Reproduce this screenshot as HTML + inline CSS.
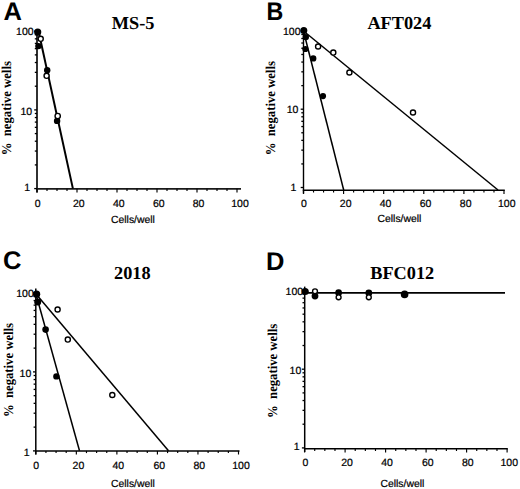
<!DOCTYPE html><html><head><meta charset="utf-8"><style>html,body{margin:0;padding:0;background:#fff;}svg{display:block;}text{text-rendering:geometricPrecision;}</style></head><body>
<svg width="520" height="489" viewBox="0 0 520 489">
<rect width="520" height="489" fill="#fff"/>
<g><text transform="translate(3.4,19.6) scale(1.0,1)" font-family='"Liberation Sans", sans-serif' font-weight="bold" font-size="25.5">A</text><text x="133.1" y="29.2" text-anchor="middle" font-family='"Liberation Serif", serif' font-weight="bold" font-size="18.3">MS-5</text><line x1="37.0" y1="29.5" x2="37.0" y2="192.5" stroke="#1a1a1a" stroke-width="1.8"/><line x1="36.1" y1="188.8" x2="241.0" y2="188.8" stroke="#1a1a1a" stroke-width="1.8"/><line x1="34.20" y1="188.60" x2="37.0" y2="188.60" stroke="#000" stroke-width="1.3"/><line x1="34.80" y1="164.91" x2="37.0" y2="164.91" stroke="#000" stroke-width="1.3"/><line x1="34.80" y1="151.05" x2="37.0" y2="151.05" stroke="#000" stroke-width="1.3"/><line x1="34.80" y1="141.22" x2="37.0" y2="141.22" stroke="#000" stroke-width="1.3"/><line x1="34.80" y1="133.59" x2="37.0" y2="133.59" stroke="#000" stroke-width="1.3"/><line x1="34.80" y1="127.36" x2="37.0" y2="127.36" stroke="#000" stroke-width="1.3"/><line x1="34.80" y1="122.09" x2="37.0" y2="122.09" stroke="#000" stroke-width="1.3"/><line x1="34.80" y1="117.53" x2="37.0" y2="117.53" stroke="#000" stroke-width="1.3"/><line x1="34.80" y1="113.50" x2="37.0" y2="113.50" stroke="#000" stroke-width="1.3"/><line x1="34.20" y1="109.90" x2="37.0" y2="109.90" stroke="#000" stroke-width="1.3"/><line x1="34.80" y1="86.21" x2="37.0" y2="86.21" stroke="#000" stroke-width="1.3"/><line x1="34.80" y1="72.35" x2="37.0" y2="72.35" stroke="#000" stroke-width="1.3"/><line x1="34.80" y1="62.52" x2="37.0" y2="62.52" stroke="#000" stroke-width="1.3"/><line x1="34.80" y1="54.89" x2="37.0" y2="54.89" stroke="#000" stroke-width="1.3"/><line x1="34.80" y1="48.66" x2="37.0" y2="48.66" stroke="#000" stroke-width="1.3"/><line x1="34.80" y1="43.39" x2="37.0" y2="43.39" stroke="#000" stroke-width="1.3"/><line x1="34.80" y1="38.83" x2="37.0" y2="38.83" stroke="#000" stroke-width="1.3"/><line x1="34.80" y1="34.80" x2="37.0" y2="34.80" stroke="#000" stroke-width="1.3"/><line x1="34.20" y1="31.20" x2="37.0" y2="31.20" stroke="#000" stroke-width="1.3"/><line x1="37.00" y1="188.8" x2="37.00" y2="192.4" stroke="#000" stroke-width="1.15"/><line x1="47.00" y1="188.8" x2="47.00" y2="191.0" stroke="#000" stroke-width="1.15"/><line x1="57.00" y1="188.8" x2="57.00" y2="191.0" stroke="#000" stroke-width="1.15"/><line x1="67.00" y1="188.8" x2="67.00" y2="191.0" stroke="#000" stroke-width="1.15"/><line x1="77.00" y1="188.8" x2="77.00" y2="192.4" stroke="#000" stroke-width="1.15"/><line x1="87.00" y1="188.8" x2="87.00" y2="191.0" stroke="#000" stroke-width="1.15"/><line x1="97.00" y1="188.8" x2="97.00" y2="191.0" stroke="#000" stroke-width="1.15"/><line x1="107.00" y1="188.8" x2="107.00" y2="191.0" stroke="#000" stroke-width="1.15"/><line x1="117.00" y1="188.8" x2="117.00" y2="192.4" stroke="#000" stroke-width="1.15"/><line x1="127.00" y1="188.8" x2="127.00" y2="191.0" stroke="#000" stroke-width="1.15"/><line x1="137.00" y1="188.8" x2="137.00" y2="191.0" stroke="#000" stroke-width="1.15"/><line x1="147.00" y1="188.8" x2="147.00" y2="191.0" stroke="#000" stroke-width="1.15"/><line x1="157.00" y1="188.8" x2="157.00" y2="192.4" stroke="#000" stroke-width="1.15"/><line x1="167.00" y1="188.8" x2="167.00" y2="191.0" stroke="#000" stroke-width="1.15"/><line x1="177.00" y1="188.8" x2="177.00" y2="191.0" stroke="#000" stroke-width="1.15"/><line x1="187.00" y1="188.8" x2="187.00" y2="191.0" stroke="#000" stroke-width="1.15"/><line x1="197.00" y1="188.8" x2="197.00" y2="192.4" stroke="#000" stroke-width="1.15"/><line x1="207.00" y1="188.8" x2="207.00" y2="191.0" stroke="#000" stroke-width="1.15"/><line x1="217.00" y1="188.8" x2="217.00" y2="191.0" stroke="#000" stroke-width="1.15"/><line x1="227.00" y1="188.8" x2="227.00" y2="191.0" stroke="#000" stroke-width="1.15"/><line x1="237.00" y1="188.8" x2="237.00" y2="192.4" stroke="#000" stroke-width="1.15"/><text x="16.08" y="35.08" font-family='"Liberation Sans", sans-serif' font-size="10.5" stroke="#000" stroke-width="0.22">100</text><text x="20.49" y="114.68" font-family='"Liberation Sans", sans-serif' font-size="10.5" stroke="#000" stroke-width="0.22">10</text><text x="24.26" y="190.73" font-family='"Liberation Sans", sans-serif' font-size="10.5" stroke="#000" stroke-width="0.22">1</text><text x="34.79" y="207.03" font-family='"Liberation Sans", sans-serif' font-size="10.5" stroke="#000" stroke-width="0.22">0</text><text x="72.97" y="207.03" font-family='"Liberation Sans", sans-serif' font-size="10.5" stroke="#000" stroke-width="0.22">20</text><text x="112.95" y="207.03" font-family='"Liberation Sans", sans-serif' font-size="10.5" stroke="#000" stroke-width="0.22">40</text><text x="152.92" y="207.03" font-family='"Liberation Sans", sans-serif' font-size="10.5" stroke="#000" stroke-width="0.22">60</text><text x="192.65" y="207.03" font-family='"Liberation Sans", sans-serif' font-size="10.5" stroke="#000" stroke-width="0.22">80</text><text x="231.27" y="207.03" font-family='"Liberation Sans", sans-serif' font-size="10.5" stroke="#000" stroke-width="0.22">100</text><text x="111.03" y="222.52" font-family='"Liberation Sans", sans-serif' font-size="10.4" stroke="#000" stroke-width="0.22">Cells/well</text><text transform="translate(11.3,108.2) rotate(-90) scale(0.94,1)" text-anchor="middle" font-family='"Liberation Serif", serif' font-weight="bold" font-size="13.5" xml:space="preserve">%  negative wells</text><line x1="38.6" y1="31.5" x2="72.9" y2="188.6" stroke="#000" stroke-width="2.0"/><circle cx="37.7" cy="32.1" r="3.6" fill="#000"/><circle cx="38.4" cy="46.1" r="3.2" fill="#000"/><circle cx="47.2" cy="70.2" r="3.2" fill="#000"/><circle cx="57.1" cy="120.9" r="3.2" fill="#000"/><circle cx="40.7" cy="38.8" r="2.55" fill="#fff" stroke="#000" stroke-width="1.4"/><circle cx="46.6" cy="75.8" r="2.55" fill="#fff" stroke="#000" stroke-width="1.4"/><circle cx="57.7" cy="116.0" r="2.6500000000000004" fill="#fff" stroke="#000" stroke-width="1.4"/></g>
<g><text transform="translate(266.6,19.6) scale(0.91,1)" font-family='"Liberation Sans", sans-serif' font-weight="bold" font-size="25.5">B</text><text x="399.4" y="29.2" text-anchor="middle" font-family='"Liberation Serif", serif' font-weight="bold" font-size="18.3">AFT024</text><line x1="303.5" y1="28.0" x2="303.5" y2="193.6" stroke="#000" stroke-width="1.4"/><line x1="302.8" y1="190.3" x2="504.8" y2="190.3" stroke="#000" stroke-width="1.4"/><line x1="300.70" y1="187.50" x2="303.5" y2="187.50" stroke="#000" stroke-width="1.3"/><line x1="301.30" y1="163.93" x2="303.5" y2="163.93" stroke="#000" stroke-width="1.3"/><line x1="301.30" y1="150.14" x2="303.5" y2="150.14" stroke="#000" stroke-width="1.3"/><line x1="301.30" y1="140.36" x2="303.5" y2="140.36" stroke="#000" stroke-width="1.3"/><line x1="301.30" y1="132.77" x2="303.5" y2="132.77" stroke="#000" stroke-width="1.3"/><line x1="301.30" y1="126.57" x2="303.5" y2="126.57" stroke="#000" stroke-width="1.3"/><line x1="301.30" y1="121.33" x2="303.5" y2="121.33" stroke="#000" stroke-width="1.3"/><line x1="301.30" y1="116.79" x2="303.5" y2="116.79" stroke="#000" stroke-width="1.3"/><line x1="301.30" y1="112.78" x2="303.5" y2="112.78" stroke="#000" stroke-width="1.3"/><line x1="300.70" y1="109.20" x2="303.5" y2="109.20" stroke="#000" stroke-width="1.3"/><line x1="301.30" y1="85.63" x2="303.5" y2="85.63" stroke="#000" stroke-width="1.3"/><line x1="301.30" y1="71.84" x2="303.5" y2="71.84" stroke="#000" stroke-width="1.3"/><line x1="301.30" y1="62.06" x2="303.5" y2="62.06" stroke="#000" stroke-width="1.3"/><line x1="301.30" y1="54.47" x2="303.5" y2="54.47" stroke="#000" stroke-width="1.3"/><line x1="301.30" y1="48.27" x2="303.5" y2="48.27" stroke="#000" stroke-width="1.3"/><line x1="301.30" y1="43.03" x2="303.5" y2="43.03" stroke="#000" stroke-width="1.3"/><line x1="301.30" y1="38.49" x2="303.5" y2="38.49" stroke="#000" stroke-width="1.3"/><line x1="301.30" y1="34.48" x2="303.5" y2="34.48" stroke="#000" stroke-width="1.3"/><line x1="300.70" y1="30.90" x2="303.5" y2="30.90" stroke="#000" stroke-width="1.3"/><line x1="303.50" y1="190.3" x2="303.50" y2="193.9" stroke="#000" stroke-width="1.15"/><line x1="313.52" y1="190.3" x2="313.52" y2="192.5" stroke="#000" stroke-width="1.15"/><line x1="323.55" y1="190.3" x2="323.55" y2="192.5" stroke="#000" stroke-width="1.15"/><line x1="333.57" y1="190.3" x2="333.57" y2="192.5" stroke="#000" stroke-width="1.15"/><line x1="343.60" y1="190.3" x2="343.60" y2="193.9" stroke="#000" stroke-width="1.15"/><line x1="353.62" y1="190.3" x2="353.62" y2="192.5" stroke="#000" stroke-width="1.15"/><line x1="363.65" y1="190.3" x2="363.65" y2="192.5" stroke="#000" stroke-width="1.15"/><line x1="373.68" y1="190.3" x2="373.68" y2="192.5" stroke="#000" stroke-width="1.15"/><line x1="383.70" y1="190.3" x2="383.70" y2="193.9" stroke="#000" stroke-width="1.15"/><line x1="393.73" y1="190.3" x2="393.73" y2="192.5" stroke="#000" stroke-width="1.15"/><line x1="403.75" y1="190.3" x2="403.75" y2="192.5" stroke="#000" stroke-width="1.15"/><line x1="413.77" y1="190.3" x2="413.77" y2="192.5" stroke="#000" stroke-width="1.15"/><line x1="423.80" y1="190.3" x2="423.80" y2="193.9" stroke="#000" stroke-width="1.15"/><line x1="433.82" y1="190.3" x2="433.82" y2="192.5" stroke="#000" stroke-width="1.15"/><line x1="443.85" y1="190.3" x2="443.85" y2="192.5" stroke="#000" stroke-width="1.15"/><line x1="453.88" y1="190.3" x2="453.88" y2="192.5" stroke="#000" stroke-width="1.15"/><line x1="463.90" y1="190.3" x2="463.90" y2="193.9" stroke="#000" stroke-width="1.15"/><line x1="473.92" y1="190.3" x2="473.92" y2="192.5" stroke="#000" stroke-width="1.15"/><line x1="483.95" y1="190.3" x2="483.95" y2="192.5" stroke="#000" stroke-width="1.15"/><line x1="493.98" y1="190.3" x2="493.98" y2="192.5" stroke="#000" stroke-width="1.15"/><line x1="504.00" y1="190.3" x2="504.00" y2="193.9" stroke="#000" stroke-width="1.15"/><text x="282.97" y="35.03" font-family='"Liberation Sans", sans-serif' font-size="10.5" stroke="#000" stroke-width="0.22">100</text><text x="286.69" y="113.03" font-family='"Liberation Sans", sans-serif' font-size="10.5" stroke="#000" stroke-width="0.22">10</text><text x="290.56" y="191.23" font-family='"Liberation Sans", sans-serif' font-size="10.5" stroke="#000" stroke-width="0.22">1</text><text x="300.99" y="206.83" font-family='"Liberation Sans", sans-serif' font-size="10.5" stroke="#000" stroke-width="0.22">0</text><text x="339.82" y="206.83" font-family='"Liberation Sans", sans-serif' font-size="10.5" stroke="#000" stroke-width="0.22">20</text><text x="379.75" y="206.83" font-family='"Liberation Sans", sans-serif' font-size="10.5" stroke="#000" stroke-width="0.22">40</text><text x="419.72" y="206.83" font-family='"Liberation Sans", sans-serif' font-size="10.5" stroke="#000" stroke-width="0.22">60</text><text x="459.85" y="206.83" font-family='"Liberation Sans", sans-serif' font-size="10.5" stroke="#000" stroke-width="0.22">80</text><text x="497.97" y="206.83" font-family='"Liberation Sans", sans-serif' font-size="10.5" stroke="#000" stroke-width="0.22">100</text><text x="377.53" y="221.72" font-family='"Liberation Sans", sans-serif' font-size="10.4" stroke="#000" stroke-width="0.22">Cells/well</text><text transform="translate(275.0,108.2) rotate(-90) scale(0.94,1)" text-anchor="middle" font-family='"Liberation Serif", serif' font-weight="bold" font-size="13.5" xml:space="preserve">%  negative wells</text><line x1="303.5" y1="31.0" x2="343.7" y2="190.0" stroke="#000" stroke-width="1.5"/><line x1="303.5" y1="31.0" x2="498.0" y2="190.0" stroke="#000" stroke-width="1.5"/><circle cx="303.8" cy="30.6" r="3.5" fill="#000"/><circle cx="305.8" cy="37.1" r="3.2" fill="#000"/><circle cx="305.4" cy="49.0" r="3.1" fill="#000"/><circle cx="313.2" cy="58.4" r="3.2" fill="#000"/><circle cx="323.0" cy="96.1" r="3.1" fill="#000"/><circle cx="318.1" cy="46.5" r="2.55" fill="#fff" stroke="#000" stroke-width="1.4"/><circle cx="333.3" cy="52.6" r="2.55" fill="#fff" stroke="#000" stroke-width="1.4"/><circle cx="349.4" cy="72.5" r="2.55" fill="#fff" stroke="#000" stroke-width="1.4"/><circle cx="413.0" cy="112.5" r="2.55" fill="#fff" stroke="#000" stroke-width="1.4"/></g>
<g><text transform="translate(2.9,269.0) scale(1.0,1)" font-family='"Liberation Sans", sans-serif' font-weight="bold" font-size="25.5">C</text><text x="132.3" y="278.8" text-anchor="middle" font-family='"Liberation Serif", serif' font-weight="bold" font-size="18.3">2018</text><line x1="35.8" y1="288.6" x2="35.8" y2="454.5" stroke="#000" stroke-width="1.5"/><line x1="35.05" y1="450.9" x2="239.5" y2="450.9" stroke="#000" stroke-width="1.5"/><line x1="33.00" y1="450.90" x2="35.8" y2="450.90" stroke="#000" stroke-width="1.3"/><line x1="33.60" y1="427.12" x2="35.8" y2="427.12" stroke="#000" stroke-width="1.3"/><line x1="33.60" y1="413.21" x2="35.8" y2="413.21" stroke="#000" stroke-width="1.3"/><line x1="33.60" y1="403.34" x2="35.8" y2="403.34" stroke="#000" stroke-width="1.3"/><line x1="33.60" y1="395.68" x2="35.8" y2="395.68" stroke="#000" stroke-width="1.3"/><line x1="33.60" y1="389.43" x2="35.8" y2="389.43" stroke="#000" stroke-width="1.3"/><line x1="33.60" y1="384.14" x2="35.8" y2="384.14" stroke="#000" stroke-width="1.3"/><line x1="33.60" y1="379.56" x2="35.8" y2="379.56" stroke="#000" stroke-width="1.3"/><line x1="33.60" y1="375.51" x2="35.8" y2="375.51" stroke="#000" stroke-width="1.3"/><line x1="33.00" y1="371.90" x2="35.8" y2="371.90" stroke="#000" stroke-width="1.3"/><line x1="33.60" y1="348.12" x2="35.8" y2="348.12" stroke="#000" stroke-width="1.3"/><line x1="33.60" y1="334.21" x2="35.8" y2="334.21" stroke="#000" stroke-width="1.3"/><line x1="33.60" y1="324.34" x2="35.8" y2="324.34" stroke="#000" stroke-width="1.3"/><line x1="33.60" y1="316.68" x2="35.8" y2="316.68" stroke="#000" stroke-width="1.3"/><line x1="33.60" y1="310.43" x2="35.8" y2="310.43" stroke="#000" stroke-width="1.3"/><line x1="33.60" y1="305.14" x2="35.8" y2="305.14" stroke="#000" stroke-width="1.3"/><line x1="33.60" y1="300.56" x2="35.8" y2="300.56" stroke="#000" stroke-width="1.3"/><line x1="33.60" y1="296.51" x2="35.8" y2="296.51" stroke="#000" stroke-width="1.3"/><line x1="33.00" y1="292.90" x2="35.8" y2="292.90" stroke="#000" stroke-width="1.3"/><line x1="35.80" y1="450.9" x2="35.80" y2="454.5" stroke="#000" stroke-width="1.15"/><line x1="45.94" y1="450.9" x2="45.94" y2="453.09999999999997" stroke="#000" stroke-width="1.15"/><line x1="56.07" y1="450.9" x2="56.07" y2="453.09999999999997" stroke="#000" stroke-width="1.15"/><line x1="66.20" y1="450.9" x2="66.20" y2="453.09999999999997" stroke="#000" stroke-width="1.15"/><line x1="76.34" y1="450.9" x2="76.34" y2="454.5" stroke="#000" stroke-width="1.15"/><line x1="86.47" y1="450.9" x2="86.47" y2="453.09999999999997" stroke="#000" stroke-width="1.15"/><line x1="96.61" y1="450.9" x2="96.61" y2="453.09999999999997" stroke="#000" stroke-width="1.15"/><line x1="106.75" y1="450.9" x2="106.75" y2="453.09999999999997" stroke="#000" stroke-width="1.15"/><line x1="116.88" y1="450.9" x2="116.88" y2="454.5" stroke="#000" stroke-width="1.15"/><line x1="127.02" y1="450.9" x2="127.02" y2="453.09999999999997" stroke="#000" stroke-width="1.15"/><line x1="137.15" y1="450.9" x2="137.15" y2="453.09999999999997" stroke="#000" stroke-width="1.15"/><line x1="147.29" y1="450.9" x2="147.29" y2="453.09999999999997" stroke="#000" stroke-width="1.15"/><line x1="157.42" y1="450.9" x2="157.42" y2="454.5" stroke="#000" stroke-width="1.15"/><line x1="167.56" y1="450.9" x2="167.56" y2="453.09999999999997" stroke="#000" stroke-width="1.15"/><line x1="177.69" y1="450.9" x2="177.69" y2="453.09999999999997" stroke="#000" stroke-width="1.15"/><line x1="187.82" y1="450.9" x2="187.82" y2="453.09999999999997" stroke="#000" stroke-width="1.15"/><line x1="197.96" y1="450.9" x2="197.96" y2="454.5" stroke="#000" stroke-width="1.15"/><line x1="208.10" y1="450.9" x2="208.10" y2="453.09999999999997" stroke="#000" stroke-width="1.15"/><line x1="218.23" y1="450.9" x2="218.23" y2="453.09999999999997" stroke="#000" stroke-width="1.15"/><line x1="228.37" y1="450.9" x2="228.37" y2="453.09999999999997" stroke="#000" stroke-width="1.15"/><line x1="238.50" y1="450.9" x2="238.50" y2="454.5" stroke="#000" stroke-width="1.15"/><text x="16.27" y="297.43" font-family='"Liberation Sans", sans-serif' font-size="10.5" stroke="#000" stroke-width="0.22">100</text><text x="19.59" y="376.63" font-family='"Liberation Sans", sans-serif' font-size="10.5" stroke="#000" stroke-width="0.22">10</text><text x="23.80" y="456.08" font-family='"Liberation Sans", sans-serif' font-size="10.5" stroke="#000" stroke-width="0.22">1</text><text x="33.34" y="469.13" font-family='"Liberation Sans", sans-serif' font-size="10.5" stroke="#000" stroke-width="0.22">0</text><text x="72.62" y="469.13" font-family='"Liberation Sans", sans-serif' font-size="10.5" stroke="#000" stroke-width="0.22">20</text><text x="112.45" y="469.13" font-family='"Liberation Sans", sans-serif' font-size="10.5" stroke="#000" stroke-width="0.22">40</text><text x="153.42" y="469.13" font-family='"Liberation Sans", sans-serif' font-size="10.5" stroke="#000" stroke-width="0.22">60</text><text x="193.45" y="469.13" font-family='"Liberation Sans", sans-serif' font-size="10.5" stroke="#000" stroke-width="0.22">80</text><text x="232.27" y="469.13" font-family='"Liberation Sans", sans-serif' font-size="10.5" stroke="#000" stroke-width="0.22">100</text><text x="111.03" y="486.82" font-family='"Liberation Sans", sans-serif' font-size="10.4" stroke="#000" stroke-width="0.22">Cells/well</text><text transform="translate(13.2,370.0) rotate(-90) scale(0.94,1)" text-anchor="middle" font-family='"Liberation Serif", serif' font-weight="bold" font-size="13.5" xml:space="preserve">%  negative wells</text><line x1="35.8" y1="293.5" x2="79.5" y2="450.8" stroke="#000" stroke-width="1.5"/><line x1="35.8" y1="293.8" x2="168.5" y2="450.8" stroke="#000" stroke-width="1.5"/><circle cx="36.6" cy="294.2" r="3.6" fill="#000"/><circle cx="37.7" cy="301.9" r="3.5" fill="#000"/><circle cx="45.6" cy="329.6" r="3.3" fill="#000"/><circle cx="56.4" cy="376.4" r="3.2" fill="#000"/><circle cx="57.6" cy="309.5" r="2.55" fill="#fff" stroke="#000" stroke-width="1.4"/><circle cx="67.8" cy="339.6" r="2.55" fill="#fff" stroke="#000" stroke-width="1.4"/><circle cx="112.3" cy="395.0" r="2.55" fill="#fff" stroke="#000" stroke-width="1.4"/></g>
<g><text transform="translate(266.0,269.5) scale(1.0,1)" font-family='"Liberation Sans", sans-serif' font-weight="bold" font-size="25.5">D</text><text x="402.2" y="279.0" text-anchor="middle" font-family='"Liberation Serif", serif' font-weight="bold" font-size="18.3">BFC012</text><line x1="304.7" y1="286.6" x2="304.7" y2="452.0" stroke="#000" stroke-width="1.5"/><line x1="303.95" y1="448.8" x2="507.8" y2="448.8" stroke="#000" stroke-width="1.5"/><line x1="301.90" y1="447.90" x2="304.7" y2="447.90" stroke="#000" stroke-width="1.3"/><line x1="302.50" y1="424.21" x2="304.7" y2="424.21" stroke="#000" stroke-width="1.3"/><line x1="302.50" y1="410.35" x2="304.7" y2="410.35" stroke="#000" stroke-width="1.3"/><line x1="302.50" y1="400.52" x2="304.7" y2="400.52" stroke="#000" stroke-width="1.3"/><line x1="302.50" y1="392.89" x2="304.7" y2="392.89" stroke="#000" stroke-width="1.3"/><line x1="302.50" y1="386.66" x2="304.7" y2="386.66" stroke="#000" stroke-width="1.3"/><line x1="302.50" y1="381.39" x2="304.7" y2="381.39" stroke="#000" stroke-width="1.3"/><line x1="302.50" y1="376.83" x2="304.7" y2="376.83" stroke="#000" stroke-width="1.3"/><line x1="302.50" y1="372.80" x2="304.7" y2="372.80" stroke="#000" stroke-width="1.3"/><line x1="301.90" y1="369.20" x2="304.7" y2="369.20" stroke="#000" stroke-width="1.3"/><line x1="302.50" y1="345.51" x2="304.7" y2="345.51" stroke="#000" stroke-width="1.3"/><line x1="302.50" y1="331.65" x2="304.7" y2="331.65" stroke="#000" stroke-width="1.3"/><line x1="302.50" y1="321.82" x2="304.7" y2="321.82" stroke="#000" stroke-width="1.3"/><line x1="302.50" y1="314.19" x2="304.7" y2="314.19" stroke="#000" stroke-width="1.3"/><line x1="302.50" y1="307.96" x2="304.7" y2="307.96" stroke="#000" stroke-width="1.3"/><line x1="302.50" y1="302.69" x2="304.7" y2="302.69" stroke="#000" stroke-width="1.3"/><line x1="302.50" y1="298.13" x2="304.7" y2="298.13" stroke="#000" stroke-width="1.3"/><line x1="302.50" y1="294.10" x2="304.7" y2="294.10" stroke="#000" stroke-width="1.3"/><line x1="301.90" y1="290.50" x2="304.7" y2="290.50" stroke="#000" stroke-width="1.3"/><line x1="304.60" y1="448.8" x2="304.60" y2="452.40000000000003" stroke="#000" stroke-width="1.15"/><line x1="314.73" y1="448.8" x2="314.73" y2="451.0" stroke="#000" stroke-width="1.15"/><line x1="324.85" y1="448.8" x2="324.85" y2="451.0" stroke="#000" stroke-width="1.15"/><line x1="334.98" y1="448.8" x2="334.98" y2="451.0" stroke="#000" stroke-width="1.15"/><line x1="345.10" y1="448.8" x2="345.10" y2="452.40000000000003" stroke="#000" stroke-width="1.15"/><line x1="355.23" y1="448.8" x2="355.23" y2="451.0" stroke="#000" stroke-width="1.15"/><line x1="365.35" y1="448.8" x2="365.35" y2="451.0" stroke="#000" stroke-width="1.15"/><line x1="375.48" y1="448.8" x2="375.48" y2="451.0" stroke="#000" stroke-width="1.15"/><line x1="385.60" y1="448.8" x2="385.60" y2="452.40000000000003" stroke="#000" stroke-width="1.15"/><line x1="395.73" y1="448.8" x2="395.73" y2="451.0" stroke="#000" stroke-width="1.15"/><line x1="405.85" y1="448.8" x2="405.85" y2="451.0" stroke="#000" stroke-width="1.15"/><line x1="415.98" y1="448.8" x2="415.98" y2="451.0" stroke="#000" stroke-width="1.15"/><line x1="426.10" y1="448.8" x2="426.10" y2="452.40000000000003" stroke="#000" stroke-width="1.15"/><line x1="436.23" y1="448.8" x2="436.23" y2="451.0" stroke="#000" stroke-width="1.15"/><line x1="446.35" y1="448.8" x2="446.35" y2="451.0" stroke="#000" stroke-width="1.15"/><line x1="456.48" y1="448.8" x2="456.48" y2="451.0" stroke="#000" stroke-width="1.15"/><line x1="466.60" y1="448.8" x2="466.60" y2="452.40000000000003" stroke="#000" stroke-width="1.15"/><line x1="476.73" y1="448.8" x2="476.73" y2="451.0" stroke="#000" stroke-width="1.15"/><line x1="486.85" y1="448.8" x2="486.85" y2="451.0" stroke="#000" stroke-width="1.15"/><line x1="496.98" y1="448.8" x2="496.98" y2="451.0" stroke="#000" stroke-width="1.15"/><line x1="507.10" y1="448.8" x2="507.10" y2="452.40000000000003" stroke="#000" stroke-width="1.15"/><text x="285.62" y="295.43" font-family='"Liberation Sans", sans-serif' font-size="10.5" stroke="#000" stroke-width="0.22">100</text><text x="289.59" y="374.03" font-family='"Liberation Sans", sans-serif' font-size="10.5" stroke="#000" stroke-width="0.22">10</text><text x="293.81" y="450.43" font-family='"Liberation Sans", sans-serif' font-size="10.5" stroke="#000" stroke-width="0.22">1</text><text x="302.49" y="465.93" font-family='"Liberation Sans", sans-serif' font-size="10.5" stroke="#000" stroke-width="0.22">0</text><text x="341.22" y="465.93" font-family='"Liberation Sans", sans-serif' font-size="10.5" stroke="#000" stroke-width="0.22">20</text><text x="381.25" y="465.93" font-family='"Liberation Sans", sans-serif' font-size="10.5" stroke="#000" stroke-width="0.22">40</text><text x="422.02" y="465.93" font-family='"Liberation Sans", sans-serif' font-size="10.5" stroke="#000" stroke-width="0.22">60</text><text x="461.95" y="465.93" font-family='"Liberation Sans", sans-serif' font-size="10.5" stroke="#000" stroke-width="0.22">80</text><text x="500.47" y="465.93" font-family='"Liberation Sans", sans-serif' font-size="10.5" stroke="#000" stroke-width="0.22">100</text><text x="380.43" y="487.32" font-family='"Liberation Sans", sans-serif' font-size="10.4" stroke="#000" stroke-width="0.22">Cells/well</text><text transform="translate(276.7,370.9) rotate(-90) scale(0.94,1)" text-anchor="middle" font-family='"Liberation Serif", serif' font-weight="bold" font-size="13.5" xml:space="preserve">%  negative wells</text><line x1="305.0" y1="292.9" x2="505.0" y2="292.9" stroke="#000" stroke-width="1.7"/><circle cx="305.2" cy="291.5" r="3.6" fill="#000"/><circle cx="315.0" cy="296.1" r="3.4" fill="#000"/><circle cx="338.6" cy="292.7" r="3.4" fill="#000"/><circle cx="368.8" cy="292.9" r="3.4" fill="#000"/><circle cx="404.6" cy="294.4" r="3.8" fill="#000"/><circle cx="315.0" cy="291.3" r="2.45" fill="#fff" stroke="#000" stroke-width="1.4"/><circle cx="338.6" cy="297.3" r="2.45" fill="#fff" stroke="#000" stroke-width="1.4"/><circle cx="368.8" cy="297.3" r="2.45" fill="#fff" stroke="#000" stroke-width="1.4"/></g>
</svg></body></html>
